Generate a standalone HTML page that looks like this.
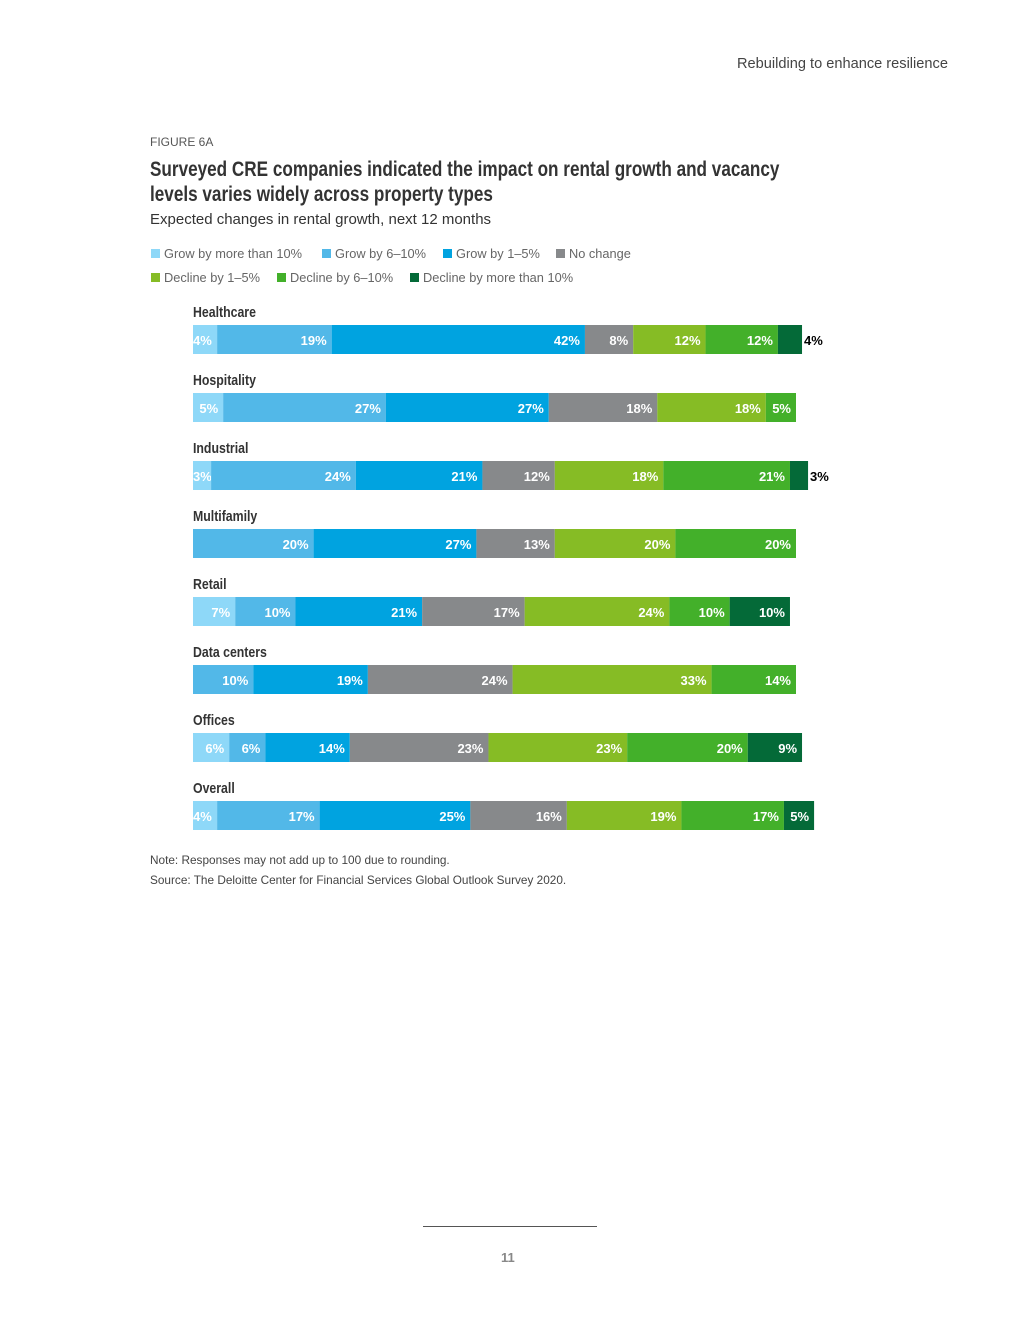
<!DOCTYPE html>
<html><head><meta charset="utf-8">
<style>
body{margin:0;background:#fff;}
#page{position:relative;width:1020px;height:1320px;font-family:"Liberation Sans","DejaVu Sans",sans-serif;color:#333;}
.t{position:absolute;white-space:nowrap;}
.cond{font-weight:bold;transform-origin:0 0;transform:scaleX(0.816);}
</style></head><body>
<div id="page">
<div class="t" style="left:737px;top:56px;font-size:14.6px;color:#444;">Rebuilding to enhance resilience</div>
<div class="t" style="left:150px;top:135px;font-size:12px;color:#555;">FIGURE 6A</div>
<div class="t cond" style="left:150px;top:157px;font-size:21px;line-height:25px;color:#333;">Surveyed CRE companies indicated the impact on rental growth and vacancy<br>levels varies widely across property types</div>
<div class="t" style="left:150px;top:211px;font-size:15px;color:#333;">Expected changes in rental growth, next 12 months</div>
<div id="legend"></div>
<svg id="chart" width="1020" height="1320" style="position:absolute;left:0;top:0"></svg>
<div class="t" style="left:150px;top:853px;font-size:11.8px;color:#444;">Note: Responses may not add up to 100 due to rounding.</div>
<div class="t" style="left:150px;top:873px;font-size:11.8px;color:#444;">Source: The Deloitte Center for Financial Services Global Outlook Survey 2020.</div>
<div style="position:absolute;left:423px;top:1226px;width:174px;height:1px;background:#555;"></div>
<div class="t" style="left:501px;top:1250px;font-size:13px;font-weight:bold;color:#888;">11</div>
</div>
<script>
const seriesNames=["Grow by more than 10%","Grow by 6–10%","Grow by 1–5%","No change","Decline by 1–5%","Decline by 6–10%","Decline by more than 10%"];
const seriesColors=["#8ed8f8","#52b8e8","#00a3e0","#87898b","#86bc25","#43b02a","#046a38"];
const categories=["Healthcare","Hospitality","Industrial","Multifamily","Retail","Data centers","Offices","Overall"];
const growMore10=[4,5,3,0,7,0,6,4];
const grow6to10=[19,27,24,20,10,10,6,17];
const grow1to5=[42,27,21,27,21,19,14,25];
const noChange=[8,18,12,13,17,24,23,16];
const decline1to5=[12,18,18,20,24,33,23,19];
const decline6to10=[12,5,21,20,10,14,20,17];
const declineMore10=[4,0,3,0,10,0,9,5];
const series=[growMore10,grow6to10,grow1to5,noChange,decline1to5,decline6to10,declineMore10];

const X0=193, PX=6.03, ROW0=325, ROWH=68, BARH=29;
const xScale=v=>X0+v*PX;
const yScale=i=>ROW0+i*ROWH;
const NS="http://www.w3.org/2000/svg";
const svg=document.getElementById('chart');
const legend=document.getElementById('legend');
const legPos=[[151,246],[322,246],[443,246],[556,246],[151,270],[277,270],[410,270]];
seriesNames.forEach((n,i)=>{
  const d=document.createElement('div');
  d.className='t';
  d.style.cssText=`left:${legPos[i][0]}px;top:${legPos[i][1]}px;font-size:12.8px;color:#666;`;
  d.innerHTML=`<span style="display:inline-block;width:9px;height:9px;background:${seriesColors[i]};margin-right:4px;"></span>${n}`;
  
  
  legend.appendChild(d);
});
categories.forEach((c,ci)=>{
  const y=yScale(ci);
  const lab=document.createElementNS(NS,'text');
  lab.setAttribute('x',0);lab.setAttribute('y',0);
  lab.setAttribute('transform',`translate(${X0},${y-8}) scale(0.85,1)`);
  lab.setAttribute('font-family','"Liberation Sans",sans-serif');
  lab.setAttribute('font-weight','bold');lab.setAttribute('font-size','14.5');lab.setAttribute('fill','#333');
  lab.textContent=c;
  
  
  svg.appendChild(lab);
  let cum=0;
  series.forEach((s,si)=>{
    const v=s[ci]; if(!v) return;
    const x1=xScale(cum), x2=xScale(cum+v); cum+=v;
    const r=document.createElementNS(NS,'rect');
    r.setAttribute('x',x1);r.setAttribute('y',y);r.setAttribute('width',x2-x1);r.setAttribute('height',BARH);
    r.setAttribute('fill',seriesColors[si]);
    
    
    svg.appendChild(r);
    const t=document.createElementNS(NS,'text');
    const outside=(si===6 && v<=4);
    const narrow=!outside && (x2-x1)<26;
    if(outside){t.setAttribute('x',x2+2);t.setAttribute('text-anchor','start');}
    else if(narrow){t.setAttribute('x',x1);t.setAttribute('text-anchor','start');}
    else {t.setAttribute('x',x2-5);t.setAttribute('text-anchor','end');}
    t.setAttribute('y',y+20);
    t.setAttribute('font-size','13');t.setAttribute('font-weight','bold');
    t.setAttribute('font-family','"Liberation Sans",sans-serif');
    t.setAttribute('fill',outside?'#000':'#fff');
    t.textContent=v+'%';
    
    
    svg.appendChild(t);
  });
});
</script>
</body></html>
